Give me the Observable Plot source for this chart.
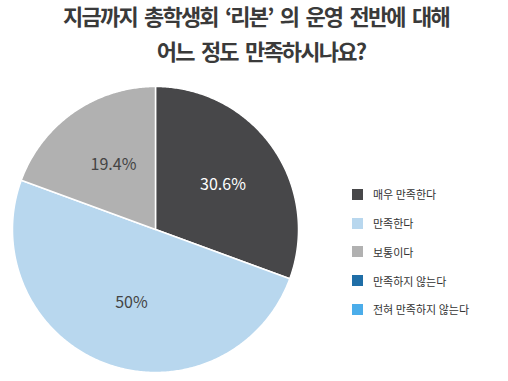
<!DOCTYPE html>
<html>
<head>
<meta charset="utf-8">
<script src="https://cdn.jsdelivr.net/npm/d3@7"></script>
<script src="https://cdn.jsdelivr.net/npm/@observablehq/plot@0.6"></script>
<style>
  html, body { margin: 0; padding: 0; background: #fff; }
  #wrap { position: relative; width: 508px; height: 381px; overflow: hidden; font-family: "Noto Sans CJK KR", "Noto Sans", sans-serif; }
  #title { position: absolute; left: 2px; top: -2px; width: 508px; text-align: center; color: #3a3a3a; font-size: 22px; font-weight: 700; line-height: 35px; letter-spacing: -1.8px; word-spacing: 4px; }
  #chart { position: absolute; left: 0; top: 76px; }
  #legend { position: absolute; left: 352px; top: 180px; font-size: 11px; color: #333; }
  .row { display: flex; align-items: center; height: 28.75px; }
  .sw { width: 11px; height: 11px; margin-right: 10px; flex: none; }
</style>
</head>
<body>
<div id="wrap">
  <div id="title">지금까지 총학생회 ‘리본’ 의 운영 전반에 대해<br><span style="margin-left:10px">어느 정도 만족하시나요?</span></div>
  <div id="chart"></div>
  <div id="legend"></div>
</div>
<script>
const categories = ["매우 만족한다", "만족한다", "보통이다", "만족하지 않는다", "전혀 만족하지 않는다"];
const values = [30.6, 50, 19.4, 0, 0];
const valueLabels = ["30.6%", "50%", "19.4%", "", ""];
const colors = ["#474749", "#b8d7ee", "#b1b1b1", "#1f6ea7", "#4badea"];
const labelColors = ["#ffffff", "#444444", "#444444", "#444444", "#444444"];

const W = 508, H = 305, cx = 155, cy = 153, R = 143;

const data = categories.map((c, i) => ({category: c, value: values[i], label: valueLabels[i], textColor: labelColors[i]}));
const arcs = d3.pie().sort(null).value(d => d.value)(data);

// slice outlines: centre + arc samples
const pts = [];
arcs.filter(a => a.data.value > 0).forEach(a => {
  pts.push({category: a.data.category, x: 0, y: 0});
  const n = Math.max(2, Math.ceil((a.endAngle - a.startAngle) / 0.01));
  for (let k = 0; k <= n; k++) {
    const t = a.startAngle + (a.endAngle - a.startAngle) * k / n;
    pts.push({category: a.data.category, x: Math.sin(t), y: Math.cos(t)});
  }
});

const labelPts = arcs.filter(a => a.data.value > 0).map(a => {
  const m = (a.startAngle + a.endAngle) / 2;
  const rr = 0.55;
  return {text: a.data.label, color: a.data.textColor, x: rr * Math.sin(m), y: rr * Math.cos(m)};
});

const chart = Plot.plot({
  width: W, height: H,
  margin: 0,
  x: {domain: [-cx / R, (W - cx) / R], range: [0, W], axis: null},
  y: {domain: [(cy - H) / R, cy / R], range: [H, 0], axis: null},
  color: {domain: categories, range: colors},
  marks: [
    Plot.line(pts, {x: "x", y: "y", z: "category", fill: "category", stroke: "#ffffff", strokeWidth: 1.5, curve: "linear-closed"}),
    Plot.text(labelPts, {x: "x", y: "y", text: "text", fill: d => d.color, fontSize: 16, fontFamily: "Noto Sans CJK KR, sans-serif", dx: 3})
  ]
});
document.getElementById("chart").appendChild(chart);

const legend = document.getElementById("legend");
categories.forEach((c, i) => {
  const row = document.createElement("div");
  row.className = "row";
  const sw = document.createElement("div");
  sw.className = "sw";
  sw.style.background = colors[i];
  const tx = document.createElement("span");
  tx.textContent = c;
  row.appendChild(sw);
  row.appendChild(tx);
  legend.appendChild(row);
});
</script>
</body>
</html>
